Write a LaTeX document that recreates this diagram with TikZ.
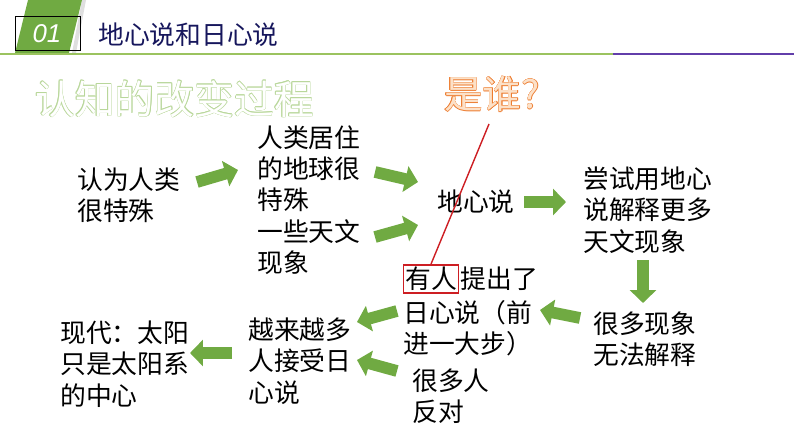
\documentclass[tikz,border=0pt]{standalone}
\usepackage{fontspec}
\setmainfont{Noto Sans CJK SC}
\newfontfamily\numfont{Liberation Sans}
\usepackage{xcolor}
\usetikzlibrary{arrows.meta, positioning}

\definecolor{arrowgreen}{RGB}{112,170,66}
\definecolor{titleblue}{RGB}{22,22,92}
\definecolor{rulegreen}{RGB}{155,195,95}
\definecolor{rulepurple}{RGB}{98,62,170}
\definecolor{whoorange}{RGB}{237,125,49}
\definecolor{wholight}{RGB}{252,225,200}
\definecolor{palegreen}{RGB}{185,215,155}
\definecolor{markred}{RGB}{205,30,35}

\begin{document}
\begin{tikzpicture}[x=0.03cm, y=-0.03cm, >=Stealth,
    txt/.style={anchor=west, inner sep=0pt, align=left, font=\fontsize{22}{26.8}\selectfont},
    bigtxt/.style={anchor=west, inner sep=0pt, font=\fontsize{#1}{#1}\selectfont},
    bigarrow/.style={arrowgreen, line width=10pt, -{Triangle[width=22pt, length=11pt]}}]
    \useasboundingbox (0,0) rectangle (794,447);

    % header
    \fill[gray!25] (82,0) -- (86,0) -- (76,53) -- (72,53) -- cycle;
    \fill[arrowgreen] (28,0) -- (82,0) -- (69,53) -- (15,53) -- cycle;
    \draw[black, line width=0.6pt] (15,16) rectangle (80,50);
    \node[text=white, font=\numfont\itshape\fontsize{22}{22}\selectfont] (num) at (47,34) {01};
    \node[anchor=west, inner sep=0pt, text=titleblue, font=\fontsize{22}{22}\selectfont] (title) at (98,35) {地心说和日心说};
    \draw[rulegreen, line width=1.8pt] (0,54) -- (613,54);
    \draw[rulepurple, line width=1.8pt] (613,54) -- (794,54);

    % outlined headings
    \foreach \dx/\dy [count=\k] in {-0.45/0, 0.45/0, 0/-0.45, 0/0.45, -0.32/-0.32, 0.32/-0.32, -0.32/0.32, 0.32/0.32} {
        \node[bigtxt=34, text=palegreen] (processrim\k) at (35+\dx,99+\dy) {认知的改变过程};
        \node[bigtxt=33, text=whoorange] (whorim\k) at (444+\dx,94+\dy) {是谁?};
    }
    \node[bigtxt=34, text=white] (process) at (35,99) {认知的改变过程};
    \node[bigtxt=33, text=wholight] (who) at (444,94) {是谁?};

    % steps
    \node[txt] (special) at (77,195) {认为人类\\很特殊};
    \node[txt] (earth) at (257,200) {人类居住\\的地球很\\特殊\\一些天文\\现象};
    \node[txt] (geo) at (437,202) {地心说};
    \node[txt] (tryit) at (583,210) {尝试用地心\\说解释更多\\天文现象};
    \node[txt] (fail) at (593,339) {很多现象\\无法解释};
    \node[draw=markred, line width=1.2pt, inner xsep=1.5pt, inner ysep=2pt, font=\fontsize{22}{26.8}\selectfont] (someone) at (431,279) {有人};
    \node[txt, right=1pt of someone] (propose) {提出了};
    \node[txt] (helio) at (403,328) {日心说（前\\进一大步）};
    \node[txt] (oppose) at (412,396) {很多人\\反对};
    \node[txt] (more) at (248,361) {越来越多\\人接受日\\心说};
    \node[txt] (today) at (60,364) {现代：太阳\\只是太阳系\\的中心};

    \coordinate (whofoot) at (489,124);
    \draw[markred, line width=1.2pt] (whofoot) -- (someone.north);

    % arrows
    \coordinate (a1s) at (197,182); \coordinate (a1e) at (238,170);
    \coordinate (a2s) at (375,172); \coordinate (a2e) at (418,182);
    \coordinate (a3s) at (375,237); \coordinate (a3e) at (418,225);
    \coordinate (a4s) at (524,202); \coordinate (a4e) at (566,202);
    \coordinate (a5s) at (643,260); \coordinate (a5e) at (643,303);
    \coordinate (a6s) at (580,318); \coordinate (a6e) at (540,310);
    \coordinate (a7s) at (397,311); \coordinate (a7e) at (357,322);
    \coordinate (a8s) at (397,371); \coordinate (a8e) at (357,360);
    \coordinate (a9s) at (232,353); \coordinate (a9e) at (190,353);
    \foreach \i in {1,...,9}
        \draw[bigarrow] (a\i s) -- (a\i e);
\end{tikzpicture}
\end{document}
